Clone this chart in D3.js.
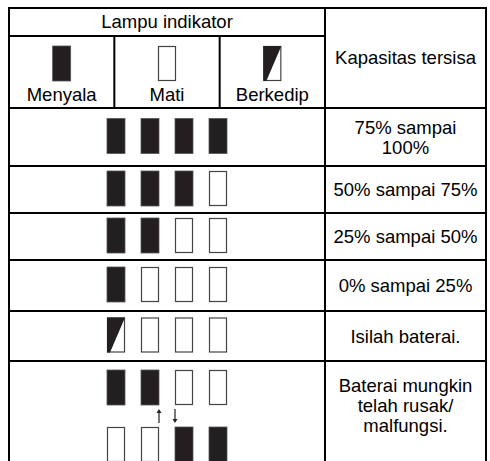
<!DOCTYPE html>
<html>
<head>
<meta charset="utf-8">
<script src="https://cdn.jsdelivr.net/npm/d3@7"></script>
<style>
	body { margin: 0; background: #fff; }
	svg { display: block; font-family: "Liberation Sans", Arial, sans-serif; }
</style>
</head>
<body>
<div id="root"></div>
<script>
// header legend
const legendLabels = ["Menyala", "Mati", "Berkedip"]
const legendStates = ["on", "off", "blink"]
const headerTitle = "Lampu indikator"
const capacityTitle = "Kapasitas tersisa"

// one entry per table row, lamps left to right
const lampRows = [
	[["on", "on", "on", "on"]],
	[["on", "on", "on", "off"]],
	[["on", "on", "off", "off"]],
	[["on", "off", "off", "off"]],
	[["blink", "off", "off", "off"]],
	[["on", "on", "off", "off"], ["off", "off", "on", "on"]],
]
const capacityLabels = [
	["75% sampai", "100%"],
	["50% sampai 75%"],
	["25% sampai 50%"],
	["0% sampai 25%"],
	["Isilah baterai."],
	["Baterai mungkin", "telah rusak/", "malfungsi."],
]
const rowHeights = [58, 47, 47, 51, 50, 110]

const width = 490, height = 461
const tLeft = 9, tRight = 486, tTop = 8, split = 325
const headRow1 = 36, headRow2 = 108
const lampW = 18, lampH = 35
const fontSize = 18.5

const svg = d3.select("#root").append("svg")
	.attr("width", width)
	.attr("height", height)

// row boundaries
const rowTops = rowHeights.reduce((acc, h) => { acc.push(acc[acc.length - 1] + h); return acc }, [headRow2])

const legendX = d3.scaleBand()
	.domain(legendLabels)
	.range([tLeft, split])

const lampX = d3.scalePoint()
	.domain(d3.range(4))
	.range([116, 218])

function drawLamp(g, state, cx, y) {
	const x0 = cx - lampW / 2
	if (state === "on") {
		g.append("rect")
			.attr("x", x0).attr("y", y)
			.attr("width", lampW).attr("height", lampH)
			.attr("fill", "#231f20")
			.attr("stroke", "#555").attr("stroke-width", 0.8)
	} else {
		g.append("rect")
			.attr("x", x0 + 0.5).attr("y", y + 0.5)
			.attr("width", lampW - 1).attr("height", lampH - 1)
			.attr("fill", "#fff")
			.attr("stroke", "#444").attr("stroke-width", 1.2)
		if (state === "blink") {
			g.append("path")
				.attr("d", `M${x0},${y} L${x0 + lampW},${y} L${x0 + 3},${y + lampH} L${x0},${y + lampH} Z`)
				.attr("fill", "#231f20")
		}
	}
}

// header content
svg.append("text")
	.attr("x", (tLeft + split) / 2)
	.attr("y", (tTop + headRow1) / 2 + 6)
	.attr("text-anchor", "middle")
	.style("font-size", fontSize + "px")
	.text(headerTitle)

legendLabels.forEach((label, i) => {
	const cx = legendX(label) + legendX.bandwidth() / 2
	drawLamp(svg.append("g"), legendStates[i], cx, 46)
	svg.append("text")
		.attr("x", cx)
		.attr("y", 101)
		.attr("text-anchor", "middle")
		.style("font-size", fontSize + "px")
		.text(label)
})

svg.append("text")
	.attr("x", (split + tRight) / 2)
	.attr("y", (tTop + headRow2) / 2 + 6)
	.attr("text-anchor", "middle")
	.style("font-size", fontSize + "px")
	.text(capacityTitle)

// body rows
lampRows.forEach((patterns, r) => {
	const y0 = rowTops[r], y1 = rowTops[r + 1]
	const g = svg.append("g")
	if (patterns.length === 1) {
		const y = (y0 + y1) / 2 - lampH / 2 - 1
		patterns[0].forEach((s, i) => drawLamp(g, s, lampX(i), y))
	} else {
		patterns[0].forEach((s, i) => drawLamp(g, s, lampX(i), y0 + 9))
		patterns[1].forEach((s, i) => drawLamp(g, s, lampX(i), y0 + 66))
		// arrows between the patterns
		const ay0 = y0 + 48, ay1 = y0 + 62
		const ax1 = (lampX(1) + lampX(2)) / 2 - 8, ax2 = (lampX(1) + lampX(2)) / 2 + 8
		g.append("line").attr("x1", ax1).attr("x2", ax1).attr("y1", ay0 + 3).attr("y2", ay1)
			.attr("stroke", "#222").attr("stroke-width", 1.2)
		g.append("path").attr("d", `M${ax1 - 2.5},${ay0 + 4} L${ax1},${ay0} L${ax1 + 2.5},${ay0 + 4} Z`).attr("fill", "#222")
		g.append("line").attr("x1", ax2).attr("x2", ax2).attr("y1", ay0).attr("y2", ay1 - 3)
			.attr("stroke", "#222").attr("stroke-width", 1.2)
		g.append("path").attr("d", `M${ax2 - 2.5},${ay1 - 4} L${ax2},${ay1} L${ax2 + 2.5},${ay1 - 4} Z`).attr("fill", "#222")
	}

	const lines = capacityLabels[r]
	const lineH = 20
	const mid = r === lampRows.length - 1 ? y0 + 44 : (y0 + y1) / 2
	lines.forEach((t, k) => {
		svg.append("text")
			.attr("x", (split + tRight) / 2)
			.attr("y", mid + (k - (lines.length - 1) / 2) * lineH + 6.5)
			.attr("text-anchor", "middle")
			.style("font-size", fontSize + "px")
			.text(t)
	})
})

// grid lines
const grid = svg.append("g")
	.attr("stroke", "#000")
	.attr("stroke-width", 2)
	.attr("fill", "none")

grid.append("path")
	.attr("d", `M${tLeft},${height + 10} L${tLeft},${tTop} L${tRight},${tTop} L${tRight},${height + 10}`)
grid.append("line").attr("x1", split).attr("x2", split).attr("y1", tTop).attr("y2", height + 10)
grid.append("line").attr("x1", tLeft).attr("x2", split).attr("y1", headRow1).attr("y2", headRow1)
legendLabels.slice(1).forEach(l => {
	grid.append("line")
		.attr("x1", legendX(l)).attr("x2", legendX(l))
		.attr("y1", headRow1).attr("y2", headRow2)
})
rowTops.slice(0, -1).forEach(y => {
	grid.append("line").attr("x1", tLeft).attr("x2", tRight).attr("y1", y).attr("y2", y)
})
</script>
</body>
</html>
